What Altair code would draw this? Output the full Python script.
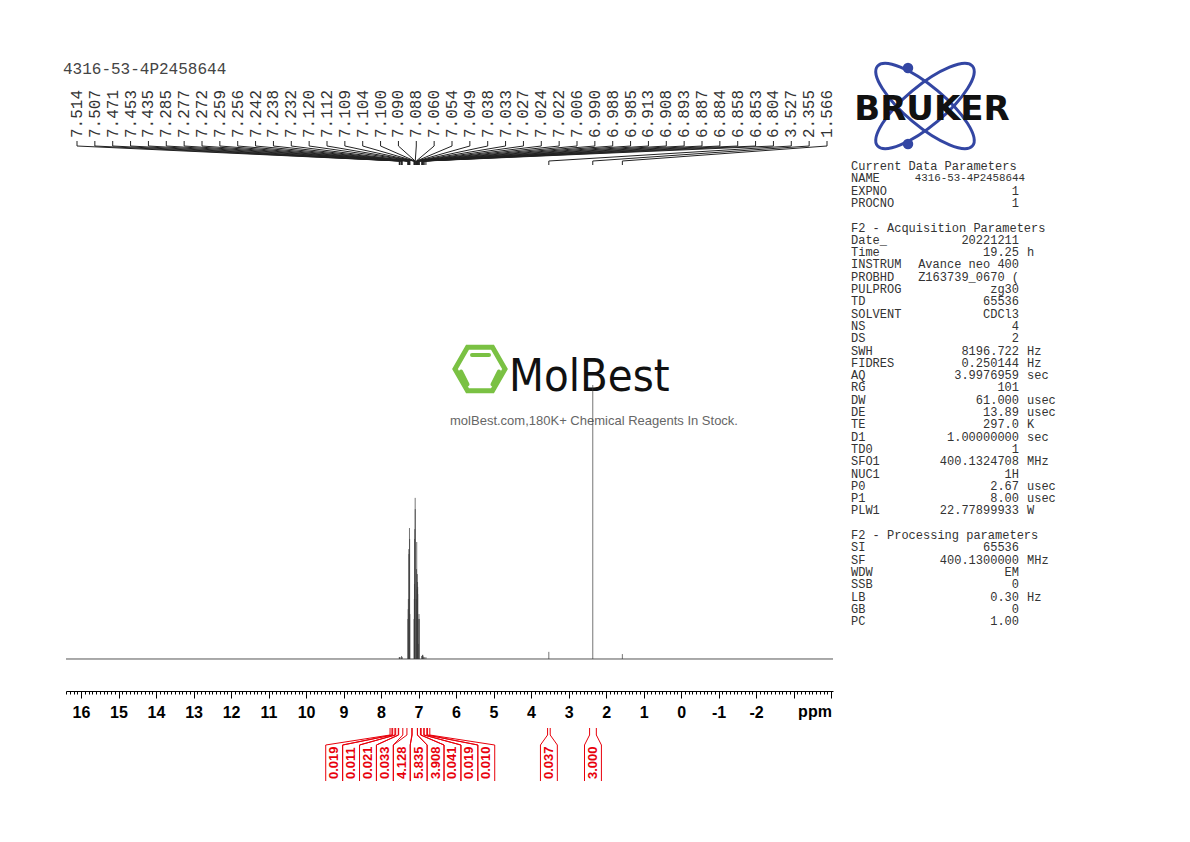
import altair as alt
import numpy as np
import pandas as pd

# ------------------------------------------------------------------ data
title_text = "4316-53-4P2458644"

peak_ppm = [7.514, 7.507, 7.471, 7.453, 7.435, 7.285, 7.277, 7.272, 7.259, 7.256,
            7.242, 7.238, 7.232, 7.120, 7.112, 7.109, 7.104, 7.100, 7.090, 7.088,
            7.060, 7.054, 7.049, 7.038, 7.033, 7.027, 7.024, 7.022, 7.006, 6.990,
            6.988, 6.985, 6.913, 6.908, 6.893, 6.887, 6.884, 6.858, 6.853, 6.804,
            3.527, 2.355, 1.566]
peak_intensity = [0.7, 0.7, 0.7, 1.1, 0.7, 14.6, 18.2, 21.9, 40.1, 38.3,
                  47.8, 43.8, 16.4, 14.6, 21.9, 27.4, 43.8, 47.4, 58.8, 54.7,
                  21.9, 32.8, 42.7, 25.5, 31.0, 28.1, 26.3, 23.7, 5.5, 14.6,
                  16.4, 14.6, 1.1, 1.1, 1.5, 1.5, 1.1, 0.7, 0.7, 0.7,
                  2.6, 100.0, 1.8]
peak_labels = [f"{p:.3f}" for p in peak_ppm]

integral_values = ["0.019", "0.011", "0.021", "0.033", "4.128", "5.835", "3.908",
                   "0.041", "0.019", "0.010", "0.037", "3.000"]
integral_left = [7.76, 7.69, 7.61, 7.53, 7.31, 7.17, 7.03, 6.93, 6.85, 6.76, 3.56, 2.44]
integral_right = [7.71, 7.63, 7.54, 7.42, 7.18, 7.03, 6.95, 6.86, 6.78, 6.70, 3.49, 2.26]
integral_group = [0, 0, 0, 0, 0, 0, 0, 0, 0, 0, 1, 2]

axis_major_ticks = list(range(16, -5, -1))
axis_first_label, axis_last_label = 16, -2

header_lines = {0: "Current Data Parameters", 5: "F2 - Acquisition Parameters",
                30: "F2 - Processing parameters"}
param_names = ["NAME", "EXPNO", "PROCNO",
               "Date_", "Time", "INSTRUM", "PROBHD", "PULPROG", "TD", "SOLVENT", "NS", "DS",
               "SWH", "FIDRES", "AQ", "RG", "DW", "DE", "TE", "D1", "TD0", "SFO1", "NUC1",
               "P0", "P1", "PLW1",
               "SI", "SF", "WDW", "SSB", "LB", "GB", "PC"]
param_values = ["4316-53-4P2458644", "1", "1",
                "20221211", "19.25", "Avance neo 400", "Z163739_0670 (", "zg30", "65536",
                "CDCl3", "4", "2", "8196.722", "0.250144", "3.9976959", "101", "61.000",
                "13.89", "297.0", "1.00000000", "1", "400.1324708", "1H", "2.67", "8.00",
                "22.77899933",
                "65536", "400.1300000", "EM", "0", "0.30", "0", "1.00"]
param_units = ["", "", "",
               "", "h", "", "", "", "", "", "", "", "Hz", "Hz", "sec", "", "usec", "usec",
               "K", "sec", "", "MHz", "", "usec", "usec", "W",
               "", "MHz", "", "", "Hz", "", ""]
param_lines = [1, 2, 3] + list(range(6, 29)) + list(range(31, 38))

watermark_name = "MolBest"
watermark_sub = "molBest.com,180K+ Chemical Reagents In Stock."
brand = "BRUKER"

# ------------------------------------------------------------------ layout
OX, OY, W, H = 66, 50, 767, 641          # plot area in page pixels
PPM_MAX, PPM_MIN = 16.4, -4.05
INT_MIN, INT_MAX = -11.68, 222.26
MONO = "Liberation Mono"
SANS = "Liberation Sans"
RED = "#e8000b"
INK = "#3a3a3a"


def ppm_at(px):
    return PPM_MAX - (px - OX) * (PPM_MAX - PPM_MIN) / W


X_SCALE = alt.Scale(domain=[PPM_MIN, PPM_MAX], reverse=True, nice=False, zero=False)
Y_INT = alt.Scale(domain=[INT_MIN, INT_MAX], nice=False, zero=False)
Y_PAGE = alt.Scale(domain=[OY, OY + H], reverse=True, nice=False, zero=False)


def xq(field):
    return alt.X(field, type="quantitative", scale=X_SCALE, axis=None)


def yp(field):
    return alt.Y(field, type="quantitative", scale=Y_PAGE, axis=None)


def single(text=""):
    return alt.Chart(pd.DataFrame({"t": [text]}))


# ---- spectrum
peaks_df = pd.DataFrame({"ppm": peak_ppm, "h": peak_intensity})
minor_ticks = [round(PPM_MAX - 0.1 * i, 1) for i in range(int(round((PPM_MAX + 4.0) / 0.1)) + 1)]
major_axis = alt.Axis(
    values=axis_major_ticks, title=None, orient="bottom", grid=False,
    labelExpr=f"datum.value <= {axis_first_label} && datum.value >= {axis_last_label} ? '' + datum.value : ''",
    tickSize=7, tickColor="#000", tickWidth=1, domainColor="#000", domainWidth=1,
    labelFont=SANS, labelFontWeight="bold", labelFontSize=16, labelColor="#000",
    labelPadding=6, labelOverlap=False, labelFlush=False, labelBound=False,
)
minor_axis = alt.Axis(
    values=minor_ticks, title=None, orient="bottom", grid=False, labels=False,
    domain=False, tickSize=3, tickColor="#000", tickWidth=1,
)

baseline = alt.Chart(pd.DataFrame({"b": [0.0]})).mark_rule(color="#555", strokeWidth=1).encode(
    y=alt.Y("b:Q", scale=Y_INT, axis=None))
peaks = alt.Chart(peaks_df).transform_calculate(base="0").mark_rule(
    color=INK, strokeWidth=0.7).encode(
    x=alt.X("ppm:Q", scale=X_SCALE, axis=major_axis),
    y=alt.Y("h:Q", scale=Y_INT, axis=None),
    y2="base:Q")
minor = alt.Chart(peaks_df).mark_rule(opacity=0).encode(
    x=alt.X("ppm:Q", scale=X_SCALE, axis=minor_axis),
    y=alt.value(0))
ppm_text = single("ppm").mark_text(font=SANS, fontWeight="bold", fontSize=16, color="#000",
                                   align="center", baseline="middle").encode(
    x=alt.value(815 - OX), y=alt.value(712 - OY), text="t:N")

# ---- peak labels & connectors
n = len(peak_ppm)
label_x = np.linspace(ppm_at(77), ppm_at(827), n)
lab_df = pd.DataFrame({"lx": label_x, "lab": peak_labels, "py": 138.0})
peak_text = alt.Chart(lab_df).mark_text(font=MONO, fontSize=16, color="#333", angle=270,
                                        align="left", baseline="middle").encode(
    x=xq("lx"), y=yp("py"), text="lab:N")
conn_rows = []
for i, (lx, p) in enumerate(zip(label_x, peak_ppm)):
    for k, (xx, yy) in enumerate([(lx, 141), (lx, 146), (p, 161), (p, 165)]):
        conn_rows.append({"id": i, "o": k, "x": xx, "y": yy})
connectors = alt.Chart(pd.DataFrame(conn_rows)).mark_line(color="#222", strokeWidth=1).encode(
    x=xq("x"), y=yp("y"), detail="id:N", order="o:Q")

# ---- integrals
COLW = 16.9 * (PPM_MAX - PPM_MIN) / W
centers = [(l + r) / 2 for l, r in zip(integral_left, integral_right)]
col_center = [0.0] * len(centers)
for g in sorted(set(integral_group)):
    idx = [i for i, gg in enumerate(integral_group) if gg == g]
    gc = float(np.mean([centers[i] for i in idx]))
    m = len(idx)
    for j, i in enumerate(idx):
        col_center[i] = gc - (j - (m - 1) / 2) * COLW
int_rows = []
for i in range(len(integral_values)):
    for s, (p, c) in enumerate([(integral_left[i], col_center[i] + COLW / 2),
                                (integral_right[i], col_center[i] - COLW / 2)]):
        for k, (xx, yy) in enumerate([(p, 728), (p, 735), (c, 745), (c, 781)]):
            int_rows.append({"id": i * 2 + s, "o": k, "x": xx, "y": yy})
int_lines = alt.Chart(pd.DataFrame(int_rows)).mark_line(color=RED, strokeWidth=1).encode(
    x=xq("x"), y=yp("y"), detail="id:N", order="o:Q")
int_df = pd.DataFrame({"cx": col_center, "v": integral_values, "py": 779.0})
int_text = alt.Chart(int_df).mark_text(font=SANS, fontWeight="bold", fontSize=13, color=RED,
                                       angle=270, align="left", baseline="middle").encode(
    x=xq("cx"), y=yp("py"), text="v:N")

# ---- title
title = single(title_text).mark_text(font=MONO, fontSize=16, color="#444", align="left",
                                     baseline="middle").encode(
    x=alt.value(63 - OX), y=alt.value(69 - OY), text="t:N")

# ---- parameters block
LINE0, LH = 166.0, 12.3
hdr_df = pd.DataFrame({"t": list(header_lines.values()),
                       "py": [LINE0 + LH * k for k in header_lines.keys()]})
par_df = pd.DataFrame({"name": param_names, "value": param_values, "unit": param_units,
                       "py": [LINE0 + LH * k for k in param_lines]})
mono = dict(font=MONO, fontSize=12, color="#333", baseline="middle")
headers = alt.Chart(hdr_df).mark_text(align="left", **mono).encode(
    x=alt.value(851 - OX), y=yp("py"), text="t:N")
pnames = alt.Chart(par_df).mark_text(align="left", **mono).encode(
    x=alt.value(851 - OX), y=yp("py"), text="name:N")
pvalues = alt.Chart(par_df).transform_filter("datum.name != 'NAME'").mark_text(
    align="right", **mono).encode(x=alt.value(1019 - OX), y=yp("py"), text="value:N")
pname_val = alt.Chart(par_df).transform_filter("datum.name == 'NAME'").mark_text(
    align="right", font=MONO, fontSize=10.8, color="#333", baseline="middle").encode(
    x=alt.value(1025 - OX), y=yp("py"), text="value:N")
punits = alt.Chart(par_df).mark_text(align="left", **mono).encode(
    x=alt.value(1027 - OX), y=yp("py"), text="unit:N")

# ---- Bruker logo
BLUE = "#3346a3"
ELLIPSE = "M-1,0A1,0.32,0,1,1,1,0A1,0.32,0,1,1,-1,0Z"
orbit1 = single().mark_point(shape=ELLIPSE, size=124 ** 2, angle=40, filled=False,
                             color=BLUE, strokeWidth=3, opacity=1).encode(
    x=alt.value(925 - OX), y=alt.value(106 - OY))
orbit2 = single().mark_point(shape=ELLIPSE, size=124 ** 2, angle=320, filled=False,
                             color=BLUE, strokeWidth=3, opacity=1).encode(
    x=alt.value(925 - OX), y=alt.value(106 - OY))
dot1 = single().mark_point(shape="circle", size=110, filled=True, color=BLUE, opacity=1).encode(
    x=alt.value(908 - OX), y=alt.value(68 - OY))
dot2 = single().mark_point(shape="circle", size=110, filled=True, color=BLUE, opacity=1).encode(
    x=alt.value(908 - OX), y=alt.value(144 - OY))
brand_text = single(brand).mark_text(font="DejaVu Sans", fontWeight="bold", fontSize=34,
                                     color="#111", align="center", baseline="middle").encode(
    x=alt.value(932 - OX), y=alt.value(110 - OY), text="t:N")

# ---- MolBest watermark
GREEN = "#7ac143"
HEX = "M-1,0L-0.5,-0.866L0.5,-0.866L1,0L0.5,0.866L-0.5,0.866Z"
BARS = "M-0.32,-0.56L0.36,-0.56M-0.76,0.1L-0.5,0.62M0.76,0.1L0.5,0.62"
hexagon = single().mark_point(shape=HEX, size=2500, filled=False, color=GREEN,
                              strokeWidth=5, opacity=1).encode(
    x=alt.value(480 - OX), y=alt.value(369 - OY))
hexbars = single().mark_point(shape=BARS, size=2500, filled=False, color=GREEN,
                              strokeWidth=4, strokeCap="round", opacity=1).encode(
    x=alt.value(480 - OX), y=alt.value(369 - OY))
wm_name = single(watermark_name).mark_text(
    font="DejaVu Sans Condensed", fontSize=45,
    color="#111", align="left", baseline="middle").encode(
    x=alt.value(509 - OX), y=alt.value(377 - OY), text="t:N")
wm_sub = single(watermark_sub).mark_text(font=SANS, fontSize=13, color="#666",
                                         align="center", baseline="middle").encode(
    x=alt.value(594 - OX), y=alt.value(421 - OY), text="t:N")

chart = alt.layer(
    hexagon, hexbars, wm_name, wm_sub,
    orbit1, orbit2, dot1, dot2, brand_text,
    title, headers, pnames, pvalues, pname_val, punits,
    peak_text, connectors, int_lines, int_text,
    baseline, minor, peaks, ppm_text,
).resolve_scale(y="independent").resolve_axis(x="independent").properties(
    width=W, height=H,
    autosize=alt.AutoSizeParams(type="none"),
    padding={"left": OX - 8, "top": OY - 8, "right": 330, "bottom": 110},
    background="white",
).configure_view(strokeWidth=0)

chart.save("out.html", embed_options={"renderer": "svg", "actions": False})
